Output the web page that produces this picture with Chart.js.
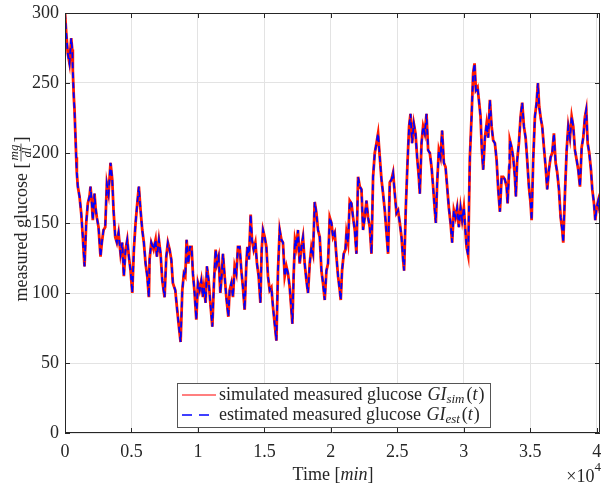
<!DOCTYPE html>
<html>
<head>
<meta charset="utf-8">
<script src="https://cdn.jsdelivr.net/npm/chart.js@4/dist/chart.umd.min.js"></script>
<style>
  body { margin: 0; background: #fff; }
  #wrap { width: 601px; height: 489px; }
</style>
</head>
<body>
<div id="wrap"><canvas id="myChart" width="601" height="489"></canvas></div>
<script>
// time in minutes, glucose in mg/dl
const timeMin = [0,90,211,339,467,542,587,663,715,791,843,889,964,1092,1220,1340,1468,1596,1717,1845,1920,2018,2093,2221,2297,2395,2523,2673,2771,2899,3027,3148,3276,3426,3554,3652,3780,3901,4029,4179,4307,4428,4556,4684,4804,4932,5060,5181,5309,5437,5557,5685,5813,5934,6062,6190,6310,6363,6491,6664,6815,6913,7063,7191,7319,7492,7620,7741,7869,7997,8117,8298,8419,8547,8697,8825,8946,9051,9149,9277,9397,9525,9623,9751,9879,10000,10128,10256,10376,10452,10580,10677,10805,10934,11084,11205,11333,11431,11559,11687,11785,11882,12010,12138,12289,12387,12515,12635,12763,12891,13012,13140,13268,13388,13516,13644,13720,13840,13968,14066,14194,14322,14443,14571,14699,14797,14895,15023,15151,15271,15399,15527,15648,15776,15904,16024,16152,16280,16400,16528,16656,16777,16905,17033,17108,17206,17304,17409,17530,17658,17786,17906,18034,18162,18283,18411,18539,18659,18787,18915,19036,19164,19292,19412,19540,19668,19789,19917,20045,20165,20293,20421,20542,20670,20745,20843,20971,21099,21174,21295,21423,21551,21671,21799,21927,22048,22176,22304,22424,22552,22680,22801,22929,23057,23177,23305,23433,23554,23682,23810,23930,24058,24186,24307,24435,24563,24683,24811,24939,25060,25188,25316,25436,25512,25640,25768,25888,25994,26114,26242,26370,26491,26619,26694,26822,26942,27070,27198,27319,27447,27575,27695,27823,27899,27997,28125,28253,28373,28501,28629,28750,28878,29006,29126,29254,29382,29503,29631,29759,29879,30007,30135,30210,30331,30459,30587,30707,30813,30911,31039,31137,31265,31362,31463,31591,31719,31839,31967,32095,32215,32343,32471,32592,32720,32848,32968,33096,33224,33299,33420,33471,33599,33719,33847,33922,34020,34148,34276,34397,34525,34653,34773,34901,35029,35105,35225,35353,35481,35579,35677,35805,35903,36031,36159,36279,36408,36536,36656,36784,36912,37033,37161,37289,37409,37485,37613,37741,37862,37990,38118,38238,38366,38494,38614,38743,38871,38991,39119,39217,39322,39443,39571,39669,39797,39895,40000,40121,40250];
const simulated = [300,286,271,264,282,274,259,240,231,211,197,186,176,169,157,140,119,150,164,169,176,164,152,171,161,154,147,126,136,145,147,178,171,193,181,159,140,136,143,128,136,112,131,138,126,116,100,131,150,164,176,159,145,136,121,112,97,124,136,131,138,126,138,128,109,97,126,136,131,124,107,102,90,78,65,102,114,112,138,121,133,133,114,100,81,107,102,109,97,104,93,119,109,93,76,107,131,121,126,100,112,128,112,97,83,102,107,97,119,114,133,133,116,104,88,121,133,124,156,138,131,136,121,112,93,131,145,140,133,112,102,104,90,78,66,116,145,138,136,112,119,114,104,88,78,114,138,133,145,121,133,140,121,109,100,121,133,128,165,157,145,140,116,107,95,116,121,154,150,140,143,126,112,102,95,116,128,131,143,136,166,164,154,145,128,183,176,174,145,154,166,154,147,128,183,200,207,214,197,181,171,159,143,128,179,181,186,171,157,159,150,140,124,116,161,193,219,228,207,221,214,197,183,171,207,219,214,228,202,200,190,176,159,150,178,202,197,216,193,190,176,161,150,136,159,154,161,147,161,152,161,143,133,127,197,226,257,264,245,247,238,226,202,188,211,221,211,238,219,209,207,195,174,158,183,183,181,176,164,190,209,204,197,183,169,195,207,226,236,219,211,195,176,164,152,195,226,236,250,233,224,219,204,190,174,188,197,200,214,193,186,174,154,145,136,171,202,219,211,226,219,202,195,188,176,204,211,226,231,207,200,188,174,164,152,161,166,157];
// the estimate lies on top of the simulated trace everywhere in the figure
const estimated = simulated;
const xTicks = [0, 5000, 10000, 15000, 20000, 25000, 30000, 35000, 40000];
const yTicks = [0, 50, 100, 150, 200, 250, 300];

const serif = "'Liberation Serif', 'DejaVu Serif', serif";
const ink = '#262626';
const fs = 18;

const toPoints = (ys) => timeMin.map((t, i) => ({x: t, y: ys[i]}));

// axes box, inward ticks and the math-style labels
const matlabAxes = {
  id: 'matlabAxes',
  afterDatasetsDraw(chart) {
    const {ctx, chartArea: a, scales} = chart;
    ctx.save();
    ctx.strokeStyle = ink;
    ctx.lineWidth = 1;
    ctx.beginPath();
    ctx.rect(a.left + 0.5, a.top + 0.5, a.right - a.left - 1, a.bottom - a.top - 1);
    ctx.stroke();
    ctx.beginPath();
    xTicks.forEach(v => {
      const px = Math.round(scales.x.getPixelForValue(v)) + 0.5;
      ctx.moveTo(px, a.bottom); ctx.lineTo(px, a.bottom - 5);
      ctx.moveTo(px, a.top); ctx.lineTo(px, a.top + 5);
    });
    yTicks.forEach(v => {
      const py = Math.round(scales.y.getPixelForValue(v)) + 0.5;
      ctx.moveTo(a.left, py); ctx.lineTo(a.left + 5, py);
      ctx.moveTo(a.right, py); ctx.lineTo(a.right - 5, py);
    });
    ctx.stroke();
    ctx.restore();
  },
  afterDraw(chart) {
    const {ctx} = chart;
    const rm = fs + 'px ' + serif, it = 'italic ' + fs + 'px ' + serif;
    const small = 'italic 13px ' + serif;
    ctx.save();
    ctx.fillStyle = ink;
    ctx.textBaseline = 'alphabetic';

    // x label: Time [min]
    ctx.font = it;
    const wMin = ctx.measureText('min').width;
    ctx.font = rm;
    const w1 = ctx.measureText('Time [').width, w3 = ctx.measureText(']').width;
    const x0 = 333 - (w1 + wMin + w3) / 2;
    ctx.fillText('Time [', x0, 480);
    ctx.font = it;
    ctx.fillText('min', x0 + w1, 480);
    ctx.font = rm;
    ctx.fillText(']', x0 + w1 + wMin, 480);

    // x10^4
    ctx.textAlign = 'right';
    ctx.font = '13px ' + serif;
    const w4 = ctx.measureText('4').width;
    ctx.fillText('4', 601, 471);
    ctx.font = rm;
    ctx.fillText('\u00d710', 601 - w4, 482);
    ctx.textAlign = 'left';

    // y label: measured glucose [mg/dl]
    ctx.save();
    ctx.translate(27, 219);
    ctx.rotate(-Math.PI / 2);
    ctx.font = rm;
    const ya = 'measured glucose [';
    const wa = ctx.measureText(ya).width;
    ctx.font = small;
    const wf = Math.max(ctx.measureText('mg').width, ctx.measureText('dl').width) + 4;
    ctx.font = rm;
    const wb = ctx.measureText(']').width;
    const lx = -(wa + wf + wb) / 2;
    ctx.fillText(ya, lx, 0);
    ctx.font = small;
    ctx.textAlign = 'center';
    ctx.fillText('mg', lx + wa + wf / 2, -9);
    ctx.fillText('dl', lx + wa + wf / 2, 4);
    ctx.textAlign = 'left';
    ctx.strokeStyle = ink;
    ctx.lineWidth = 0.8;
    ctx.beginPath();
    ctx.moveTo(lx + wa + 1, -6); ctx.lineTo(lx + wa + wf - 1, -6);
    ctx.stroke();
    ctx.font = rm;
    ctx.fillText(']', lx + wa + wf, 0);
    ctx.restore();

    // legend box inside the axes
    const L = {left: 177, top: 383, right: 490, bottom: 427};
    ctx.fillStyle = '#fff';
    ctx.fillRect(L.left, L.top, L.right - L.left, L.bottom - L.top);
    ctx.strokeStyle = '#555';
    ctx.lineWidth = 1;
    ctx.strokeRect(L.left + 0.5, L.top + 0.5, L.right - L.left, L.bottom - L.top);
    const rows = [
      {y: 395, color: '#ff0000', dash: [], width: 1.2, text: 'simulated measured glucose ', sub: 'sim'},
      {y: 415, color: '#0000ff', dash: [10, 7], width: 1.5, text: 'estimated measured glucose ', sub: 'est'}
    ];
    rows.forEach(r => {
      ctx.strokeStyle = r.color;
      ctx.lineWidth = r.width;
      ctx.setLineDash(r.dash);
      ctx.beginPath();
      ctx.moveTo(182, r.y); ctx.lineTo(216, r.y);
      ctx.stroke();
      ctx.setLineDash([]);
      ctx.fillStyle = ink;
      let tx = 219;
      const base = r.y + 5;
      ctx.font = rm;
      ctx.fillText(r.text, tx, base); tx += ctx.measureText(r.text).width + 1;
      ctx.font = it;
      ctx.fillText('GI', tx, base); tx += ctx.measureText('GI').width;
      ctx.font = small;
      ctx.fillText(r.sub, tx, base + 3); tx += ctx.measureText(r.sub).width + 2;
      ctx.font = rm;
      ctx.fillText('(', tx, base); tx += ctx.measureText('(').width;
      ctx.font = it;
      ctx.fillText('t', tx, base); tx += ctx.measureText('t').width + 1;
      ctx.font = rm;
      ctx.fillText(')', tx, base);
    });
    ctx.restore();
  }
};

new Chart('myChart', {
  type: 'line',
  data: {
    datasets: [
      {
        label: 'estimated measured glucose',
        data: toPoints(estimated),
        borderColor: '#0000ff',
        borderWidth: 1.8,
        borderDash: [6, 4],
        pointRadius: 0,
        tension: 0,
        order: 0
      },
      {
        label: 'simulated measured glucose',
        data: toPoints(simulated),
        borderColor: '#ff1a00',
        borderWidth: 2.8,
        pointRadius: 0,
        tension: 0,
        order: 1
      }
    ]
  },
  options: {
    responsive: false,
    animation: false,
    layout: {padding: {top: 13, right: 1, left: 0, bottom: 0}},
    plugins: {legend: {display: false}, tooltip: {enabled: false}},
    scales: {
      x: {
        type: 'linear',
        min: 0,
        max: 40250,
        afterFit: (s) => { s.height = 56; s.paddingLeft = 0; s.paddingRight = 0; },
        afterBuildTicks: (s) => { s.ticks = xTicks.map(v => ({value: v})); },
        ticks: {
          autoSkip: false,
          maxRotation: 0,
          padding: 8,
          color: ink,
          font: {family: serif, size: fs},
          callback: (v) => v / 10000
        },
        grid: {color: '#e3e3e3', drawTicks: false},
        border: {display: false}
      },
      y: {
        min: 0,
        max: 300,
        afterFit: (s) => { s.width = 65; s.paddingTop = 0; s.paddingBottom = 0; },
        afterBuildTicks: (s) => { s.ticks = yTicks.map(v => ({value: v})); },
        ticks: {
          padding: 6,
          color: ink,
          font: {family: serif, size: fs}
        },
        grid: {color: '#e3e3e3', drawTicks: false},
        border: {display: false}
      }
    }
  },
  plugins: [matlabAxes]
});
</script>
</body>
</html>
